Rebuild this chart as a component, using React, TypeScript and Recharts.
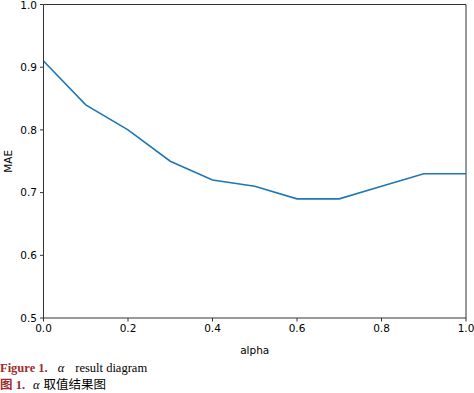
import React from "react";
import { LineChart, Line, XAxis, YAxis, ReferenceLine } from "recharts";

const alphas = [0.0, 0.1, 0.2, 0.3, 0.4, 0.5, 0.6, 0.7, 0.8, 0.9, 1.0];
const maeValues = [0.91, 0.84, 0.8, 0.75, 0.72, 0.71, 0.69, 0.69, 0.71, 0.73, 0.73];
const xTicks = [0.0, 0.2, 0.4, 0.6, 0.8, 1.0];
const yTicks = [0.5, 0.6, 0.7, 0.8, 0.9, 1.0];

const data = alphas.map((a, i) => ({ alpha: a, mae: maeValues[i] }));

const axisColor = "#333333";
const tickFont = { fontFamily: "DejaVu Sans", fontSize: 10.5, fill: "#000" };

export default function App() {
  return (
    <div style={{ position: "absolute", left: 0, top: 0, width: 474, height: 393, background: "#fff" }}>
      <LineChart
        width={474}
        height={362}
        data={data}
        margin={{ top: 4.5, right: 8, bottom: 0, left: 0 }}
      >
        <XAxis
          dataKey="alpha"
          type="number"
          domain={[0, 1]}
          ticks={xTicks}
          tickFormatter={(v: number) => v.toFixed(1)}
          stroke={axisColor}
          tickLine={{ stroke: axisColor }}
          tickSize={3.5}
          tickMargin={3}
          tick={tickFont}
          height={44}
          label={{ value: "alpha", position: "insideBottom", offset: 8, style: { fontFamily: "DejaVu Sans", fontSize: 10.5, fill: "#000" } }}
        />
        <YAxis
          type="number"
          domain={[0.5, 1]}
          ticks={yTicks}
          tickFormatter={(v: number) => v.toFixed(1)}
          stroke={axisColor}
          tickLine={{ stroke: axisColor }}
          tickSize={3.5}
          tickMargin={3}
          tick={tickFont}
          width={43.5}
          label={{ value: "MAE", angle: -90, position: "insideLeft", offset: 8, style: { fontFamily: "DejaVu Sans", fontSize: 10.5, fill: "#000", textAnchor: "middle" } }}
        />
        <ReferenceLine y={1} stroke={axisColor} />
        <ReferenceLine x={1} stroke={axisColor} />
        <Line
          dataKey="mae"
          stroke="#1f77b4"
          strokeWidth={1.6}
          dot={false}
          isAnimationActive={false}
        />
      </LineChart>
      <div
        style={{
          position: "absolute",
          left: 0,
          top: 361,
          fontFamily: "'Liberation Serif', serif",
          fontSize: 12.5,
          lineHeight: "15px",
          color: "#000",
          whiteSpace: "nowrap",
        }}
      >
        <div>
          <span style={{ color: "#9b2d2d", fontWeight: "bold" }}>Figure 1.</span>
          <span style={{ fontStyle: "italic", marginLeft: 10 }}>α</span>
          <span style={{ marginLeft: 11 }}>result diagram</span>
        </div>
        <div>
          <span style={{ color: "#9b2d2d", fontWeight: "bold", fontFamily: "'Noto Sans CJK SC', serif" }}>图</span>
          <span style={{ color: "#9b2d2d", fontWeight: "bold" }}> 1.</span>
          <span style={{ fontStyle: "italic", marginLeft: 8 }}>α</span>
          <span style={{ marginLeft: 4, fontFamily: "'Noto Sans CJK SC', sans-serif" }}>取值结果图</span>
        </div>
      </div>
    </div>
  );
}
